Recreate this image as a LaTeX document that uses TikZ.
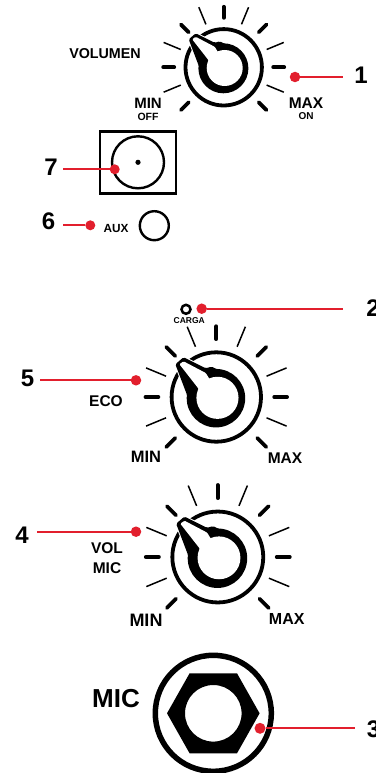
\documentclass[tikz,border=0pt]{standalone}
\usepackage{fontspec}
\setmainfont{Liberation Sans}
\definecolor{lred}{HTML}{E21F2D}
\newcommand{\fs}[1]{\fontsize{#1}{#1}\selectfont\bfseries}
\tikzset{
  reddot/.style={circle,fill=lred,inner sep=0pt,minimum size=10.5pt},
  leader/.style={draw=lred,line width=2pt},
  lbl/.style={inner sep=0pt,text=black},
  num/.style={inner sep=0pt,text=black,font=\fs{24}},
  thicktick/.style={line width=3.8pt,line cap=round},
  thintick/.style={line width=1.5pt},
}
% #1 centre x, #2 centre y, #3 scale
\newcommand{\knobdial}[3]{%
  \begin{scope}[shift={(#1,#2)},scale=#3]
    \foreach \a in {0,45,90,135,180,225,315}
      \draw[thicktick] (-\a:49.5) -- (-\a:60.5);
    \foreach \a in {22.5,67.5,112.5,157.5,202.5,337.5}
      \draw[thintick] (-\a:{46.5}) -- (-\a:{65});
    \draw[line width=3.8pt,fill=white] (0,0) circle (38.2);
    \fill[black,draw=white,line width=2pt,rounded corners=1.5pt]
      (-35,-28) -- (-28,-34) -- (-9,-24.5) -- (-4,-26) -- (8,-20) -- (-18,-7) -- (-24,1) -- cycle;
    \fill[black] (-0.3,1) circle (25);
    \fill[black,rounded corners=1.5pt] (-35,-28) -- (-28,-34) -- (-9,-24.5) -- (-4,-26) -- (8,-20) -- (-18,-7) -- (-24,1) -- cycle;
    \fill[white] (1,0.7) circle (18);
    \fill[white,rounded corners=1pt] (-31.5,-28) -- (-28,-30.5) -- (-9,-20.5) -- (-5,-14) -- (-14,-4) -- (-15.5,-7.5) -- cycle;
  \end{scope}}
\begin{document}
\begin{tikzpicture}[x=1pt,y=-1pt]
\useasboundingbox (0,0) rectangle (375,773);
\fill[white] (0,0) rectangle (375,773);
% knobs
\knobdial{223.7}{67.3}{1}
\knobdial{216.3}{397}{1.17}
\knobdial{217.8}{557}{1.19}
% texts top knob
\node[lbl,font=\fs{14.3}] (tvol) at (105,54) {VOLUMEN};
\node[lbl,font=\fs{15}] (tmin1) at (148,103.5) {MIN};
\node[lbl,font=\fs{10.5}] (toff) at (148,116.5) {OFF};
\node[lbl,font=\fs{15.5}] (tmax1) at (306,103.5) {MAX};
\node[lbl,font=\fs{10}] (ton) at (306,116.5) {ON};
% leader 1
\node[reddot] (d1) at (295,77) {};
\coordinate (e1) at (343,77);
\draw[leader] (d1) -- (e1);
\node[num] (n1) at (361,75) {1};
% box 7
\node[draw,line width=2.4pt,minimum width=76pt,minimum height=62pt,inner sep=0pt] (box) at (138.2,162.5) {};
\node[draw,circle,line width=2.4pt,minimum size=52pt,inner sep=0pt] (jack) at (138,162.3) {};
\fill (jack.center) circle (2.6);
\node[reddot,minimum size=10pt] (d7) at (114.7,169.3) {};
\coordinate (e7) at (63,169.3);
\draw[leader] (e7) -- (d7);
\node[num] (n7) at (51,167) {7};
% aux 6
\node[reddot,minimum size=10pt] (d6) at (90.3,225.3) {};
\coordinate (e6) at (63,225.3);
\draw[leader] (e6) -- (d6);
\node[num] (n6) at (48.5,221) {6};
\node[lbl,font=\fs{11.8}] (taux) at (116,228) {AUX};
\node[draw,circle,line width=2.4pt,minimum size=29pt,inner sep=0pt] (aux) at (154.3,225.7) {};
% carga 2
\node[draw,circle,line width=2.5pt,minimum size=9pt,inner sep=0pt] (led) at (186,309.3) {};
\node[lbl,font=\fs{8.5}] (tcarga) at (189.3,320.7) {CARGA};
\node[reddot] (d2) at (201.7,308.7) {};
\coordinate (e2) at (342.7,308.7);
\draw[leader] (d2) -- (e2);
\node[num] (n2) at (373,308) {2};
% knob 2
\node[reddot] (d5) at (136,380.3) {};
\coordinate (e5) at (40,380.3);
\draw[leader] (e5) -- (d5);
\node[num] (n5) at (27.5,378) {5};
\node[lbl,font=\fs{15.5}] (teco) at (106,401) {ECO};
\node[lbl,font=\fs{16.5}] (tmin2) at (146,457) {MIN};
\node[lbl,font=\fs{15.5}] (tmax2) at (285,458) {MAX};
% knob 3
\node[reddot] (d4) at (136,531.7) {};
\coordinate (e4) at (37,531.7);
\draw[leader] (e4) -- (d4);
\node[num] (n4) at (22,535) {4};
\node[lbl,font=\fs{15.5}] (tvolm) at (107,548) {VOL};
\node[lbl,font=\fs{15.5}] (tmic) at (107,568) {MIC};
\node[lbl,font=\fs{18}] (tmin3) at (146,620) {MIN};
\node[lbl,font=\fs{16}] (tmax3) at (286.7,619) {MAX};
% mic jack
\node[draw,circle,line width=5.5pt,minimum size=116pt,inner sep=0pt] (mic) at (213.3,713.3) {};
\fill[even odd rule] (167,713.3) -- (189.6,673.3) -- (237,673.3) -- (259.6,713.3) -- (237,753.3) -- (189.6,753.3) -- cycle
  (213.3,713.3) circle (28.3);
\node[lbl,font=\fs{26}] (tmicb) at (116,699) {MIC};
\node[reddot,minimum size=11pt] (d3) at (260,728.3) {};
\coordinate (e3) at (355,728.3);
\draw[leader] (d3) -- (e3);
\node[num] (n3) at (373.5,729) {3};
\end{tikzpicture}
\end{document}
